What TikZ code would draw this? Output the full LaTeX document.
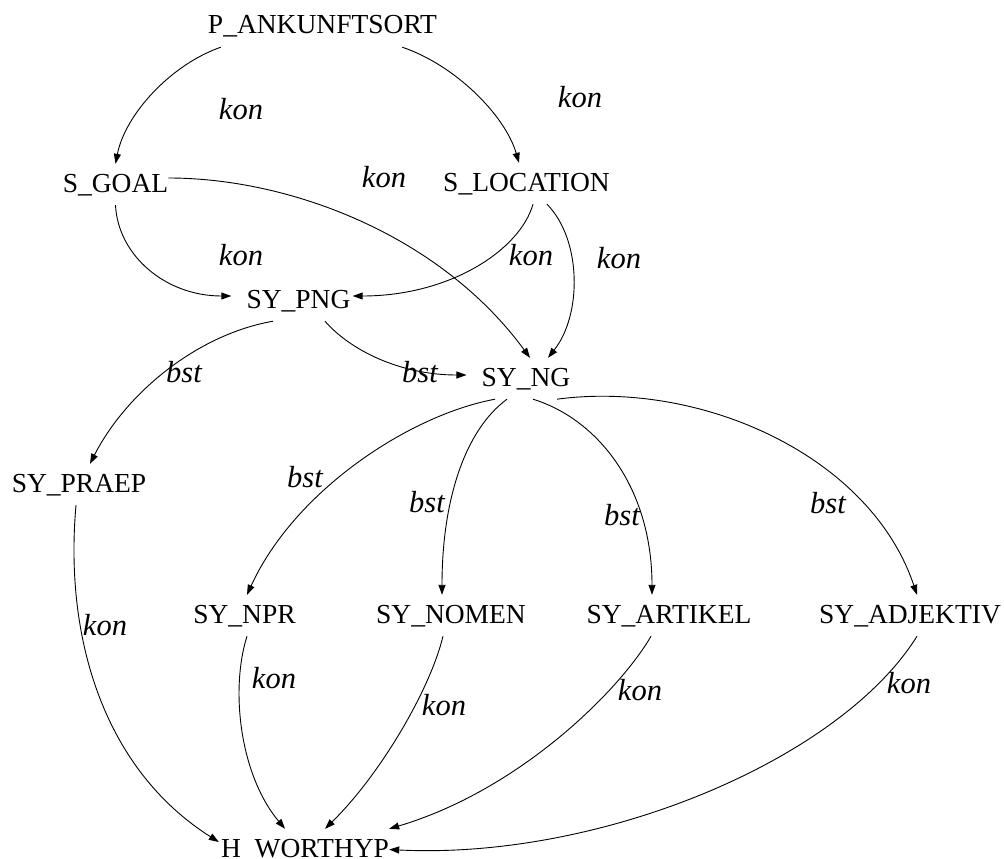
\documentclass[tikz,border=0pt]{standalone}
\usepackage{fontspec}
\setmainfont{Liberation Serif}
\usetikzlibrary{arrows.meta}
\begin{document}
\begin{tikzpicture}[x=1pt,y=-1pt,
  every node/.style={font=\fontsize{27.5}{33}\selectfont},
  nd/.style={rectangle,inner xsep=0pt,inner ysep=9pt,text height=19pt,text depth=4pt,anchor=base},
  lbl/.style={anchor=base,inner sep=0pt,font=\fontsize{30.5}{36}\selectfont\itshape},
  edge/.style={line width=0.9pt,-{Triangle[length=10pt,width=7pt]}}]
\useasboundingbox (0,0) rectangle (1004,859);
% nodes
\node[nd] (pank) at (322.5,34) {P\_ANKUNFTSORT};
\node[nd] (sgoal) at (115.5,192) {S\_GOAL};
\node[nd] (sloc) at (526.5,191) {S\_LOCATION};
\node[nd] (sypng) at (298.5,308) {SY\_PNG};
\node[nd] (syng) at (526,386) {SY\_NG};
\node[nd] (syprae) at (79,492) {SY\_PRAEP};
\node[nd] (synpr) at (244.5,623) {SY\_NPR};
\node[nd] (synomen) at (451,623) {SY\_NOMEN};
\node[nd] (syart) at (669,623) {SY\_ARTIKEL};
\node[nd] (syadj) at (910,623) {SY\_ADJEKTIV};
\node[nd] (hwort) at (305,857) {H\_WORTHYP};
% edges
\draw[edge] ([xshift=13pt]pank.south west) .. controls (170,65) and (125,115) .. (sgoal.north);
\draw[edge] ([xshift=-35pt]pank.south east) .. controls (455,65) and (505,115) .. ([xshift=-7.5pt]sloc.north);
\draw[edge] ([yshift=6.5pt]sgoal.east) .. controls (290,178) and (440,235) .. ([xshift=4pt]syng.north);
\draw[edge] (sgoal.south) .. controls (118,255) and (165,296) .. ([xshift=-15pt,yshift=4.5pt]sypng.west);
\draw[edge] ([xshift=6.5pt]sloc.south) .. controls (520,250) and (450,296) .. ([xshift=2pt,yshift=4.5pt]sypng.east);
\draw[edge] ([xshift=20.5pt]sloc.south) .. controls (582,240) and (582,315) .. ([xshift=22pt]syng.north);
\draw[edge] ([xshift=-25.5pt]sypng.south) .. controls (195,335) and (125,395) .. ([xshift=11pt]syprae.north);
\draw[edge] ([xshift=26.5pt]sypng.south) .. controls (350,350) and (400,375) .. ([xshift=-15pt,yshift=3.5pt]syng.west);
\draw[edge] ([xshift=-31pt]syng.south) .. controls (410,415) and (295,490) .. ([xshift=2.5pt]synpr.north);
\draw[edge] ([xshift=-19pt]syng.south) .. controls (465,430) and (442,500) .. ([xshift=-9pt]synomen.north);
\draw[edge] ([xshift=7pt]syng.south) .. controls (600,420) and (652,490) .. ([xshift=-17pt]syart.north);
\draw[edge] ([xshift=31pt]syng.south) .. controls (700,380) and (870,455) .. ([xshift=7pt]syadj.north);
\draw[edge] ([xshift=-3pt]syprae.south) .. controls (64,640) and (105,770) .. ([xshift=-2pt,yshift=7.5pt]hwort.west);
\draw[edge] ([xshift=2.5pt]synpr.south) .. controls (230,690) and (240,775) .. ([xshift=-20pt]hwort.north);
\draw[edge] ([xshift=-8pt]synomen.south) .. controls (430,690) and (380,775) .. ([xshift=20pt]hwort.north);
\draw[edge] ([xshift=-18pt]syart.south) .. controls (620,690) and (520,790) .. (hwort.north east);
\draw[edge] ([xshift=7pt]syadj.south) .. controls (840,760) and (600,860) .. (hwort.east);
% labels
\node[lbl] (l1) at (241,119) {kon};
\node[lbl] (l2) at (580,107) {kon};
\node[lbl] (l3) at (384,187) {kon};
\node[lbl] (l4) at (241,265) {kon};
\node[lbl] (l5) at (531,265) {kon};
\node[lbl] (l6) at (619,268) {kon};
\node[lbl] (l7) at (184,382) {bst};
\node[lbl] (l8) at (420,382) {bst};
\node[lbl] (l9) at (305,487) {bst};
\node[lbl] (l10) at (427,512) {bst};
\node[lbl] (l11) at (622,525) {bst};
\node[lbl] (l12) at (828,513) {bst};
\node[lbl] (l13) at (105,635) {kon};
\node[lbl] (l14) at (274,688) {kon};
\node[lbl] (l15) at (444,715) {kon};
\node[lbl] (l16) at (640,700) {kon};
\node[lbl] (l17) at (909,693) {kon};
\end{tikzpicture}
\end{document}
